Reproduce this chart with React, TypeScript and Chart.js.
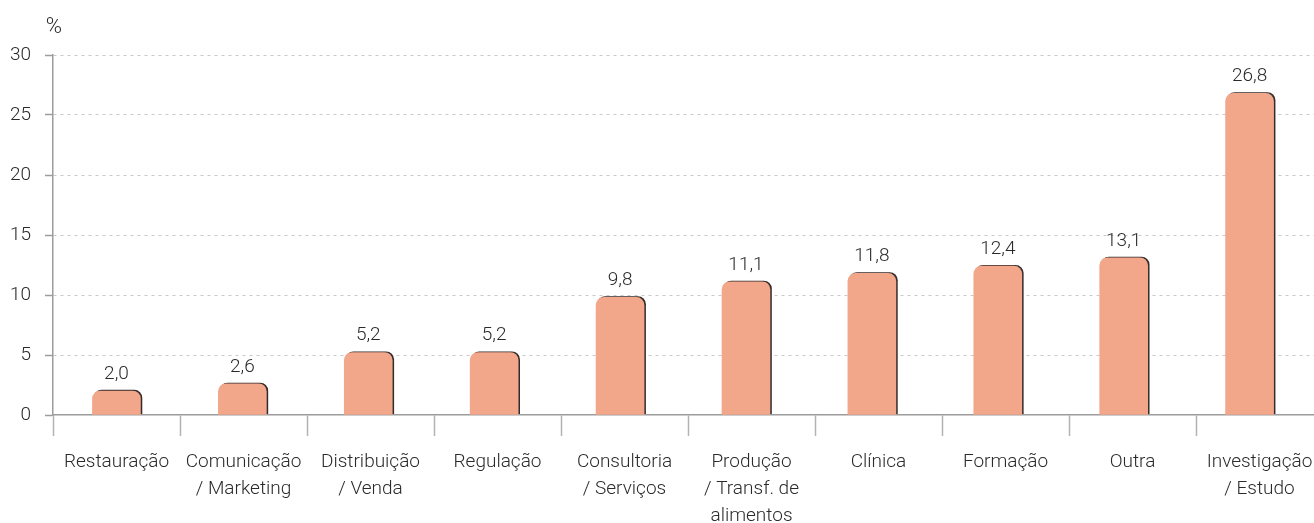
import React, { useEffect, useRef } from "react";
import { Chart, registerables } from "chart.js";

Chart.register(...registerables);

const categories: string[][] = [
  ["Restauração"],
  ["Comunicação", "/ Marketing"],
  ["Distribuição", "/ Venda"],
  ["Regulação"],
  ["Consultoria", "/ Serviços"],
  ["Produção", "/ Transf. de", "alimentos"],
  ["Clínica"],
  ["Formação"],
  ["Outra"],
  ["Investigação", "/ Estudo"],
];
const values: number[] = [2.0, 2.6, 5.2, 5.2, 9.8, 11.1, 11.8, 12.4, 13.1, 26.8];
const yMin = 0;
const yMax = 30;
const yStep = 5;
const unitLabel = "%";

const BAR_COLOR = "#F2A68A";
const TEXT_COLOR = "#2a2a2a";
const AXIS_COLOR = "#9c9c9c";
const FONT_FAMILY = "Roboto, 'Liberation Sans', sans-serif";

export default function App() {
  const canvasRef = useRef<HTMLCanvasElement | null>(null);

  useEffect(() => {
    const canvas = canvasRef.current;
    if (!canvas) return;

    const decoPlugin = {
      id: "deco",
      beforeDatasetsDraw(chart: any) {
        const ctx = chart.ctx;
        ctx.save();
        ctx.shadowColor = "rgba(30,20,20,0.9)";
        ctx.shadowOffsetX = 1.5;
        ctx.shadowOffsetY = -0.8;
        ctx.shadowBlur = 0;
      },
      afterDatasetsDraw(chart: any) {
        const ctx = chart.ctx;
        ctx.restore();
        const meta = chart.getDatasetMeta(0);
        ctx.save();
        ctx.fillStyle = TEXT_COLOR;
        ctx.font = `300 19px ${FONT_FAMILY}`;
        ctx.textAlign = "center";
        ctx.textBaseline = "middle";
        meta.data.forEach((bar: any, i: number) => {
          const txt = values[i].toFixed(1).replace(".", ",");
          ctx.fillText(txt, bar.x, bar.y - 17);
        });
        ctx.restore();
      },
      afterDraw(chart: any) {
        const ctx = chart.ctx;
        ctx.save();
        ctx.fillStyle = TEXT_COLOR;
        ctx.font = `300 22px ${FONT_FAMILY}`;
        ctx.textAlign = "center";
        ctx.textBaseline = "middle";
        ctx.fillText(unitLabel, chart.chartArea.left + 1, 27);
        ctx.restore();
      },
    };

    const tickFont = { family: FONT_FAMILY, size: 19, weight: 300 as any, lineHeight: 1.42 };

    const chart = new Chart(canvas, {
      type: "bar",
      data: {
        datasets: [
          {
            data: values.map((v, i) => ({ x: i, y: v })),
            xAxisID: "xb",
            yAxisID: "y",
            backgroundColor: BAR_COLOR,
            borderWidth: 0,
            borderRadius: { topLeft: 8, topRight: 8, bottomLeft: 0, bottomRight: 0 },
            borderSkipped: false,
            barThickness: 48,
          } as any,
        ],
      },
      options: {
        animation: false,
        responsive: false,
        devicePixelRatio: 1,
        layout: { padding: { top: 55, left: 0, right: 7, bottom: 0 } },
        plugins: {
          legend: { display: false },
          tooltip: { enabled: false },
          title: { display: false },
        },
        scales: {
          x: {
            type: "category",
            labels: categories as any,
            offset: true,
            position: "bottom",
            grid: {
              offset: true,
              drawOnChartArea: false,
              drawTicks: true,
              tickLength: 21,
              tickColor: "#b3b3b3",
              tickWidth: 1.5,
            },
            border: { display: true, color: AXIS_COLOR, width: 1.5 },
            ticks: {
              color: TEXT_COLOR,
              font: tickFont,
              padding: 13,
              maxRotation: 0,
              minRotation: 0,
              autoSkip: false,
            },
            afterFit: (s: any) => {
              s.height = 108;
            },
          } as any,
          xb: {
            type: "linear",
            display: false,
            offset: false,
            grace: 0,
            min: -0.504,
            max: 9.583,
          } as any,
          y: {
            type: "linear",
            position: "left",
            min: yMin,
            max: yMax,
            ticks: {
              stepSize: yStep,
              color: TEXT_COLOR,
              font: tickFont,
              padding: 14,
            },
            grid: {
              color: (c: any) => (c.tick && c.tick.value === 0 ? "rgba(0,0,0,0)" : "#c9c9c9"),
              lineWidth: 1,
              drawTicks: true,
              tickLength: 8,
              tickColor: AXIS_COLOR,
              tickWidth: 1.5,
              tickBorderDash: [],
            },
            border: { display: true, color: AXIS_COLOR, width: 1.5, dash: [3, 4] },
            afterFit: (s: any) => {
              s.width = 53;
            },
          } as any,
        },
      },
      plugins: [decoPlugin],
    });

    return () => {
      chart.destroy();
    };
  }, []);

  return (
    <div
      style={{
        position: "fixed",
        left: 0,
        top: 0,
        width: 1314,
        height: 523,
        overflow: "hidden",
        background: "#ffffff",
      }}
    >
      <canvas ref={canvasRef} width={1330} height={523} style={{ display: "block" }} />
    </div>
  );
}
